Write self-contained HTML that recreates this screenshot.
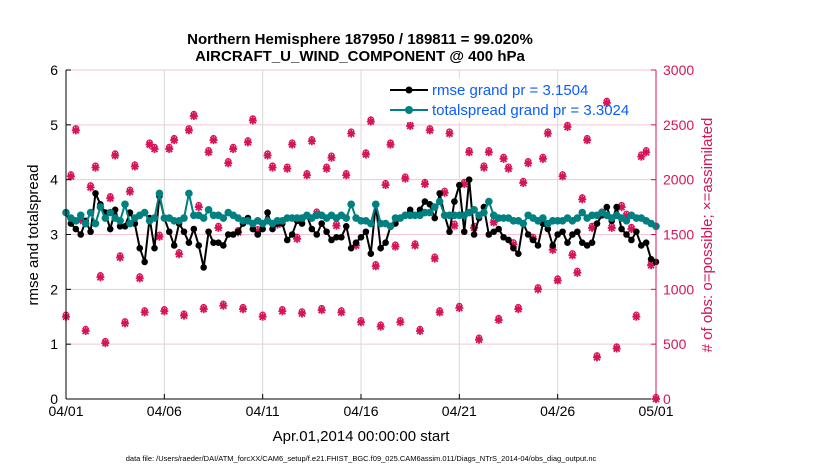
<!DOCTYPE html>
<html><head><meta charset="utf-8">
<style>
body{margin:0;background:#fff;}
svg{font-family:"Liberation Sans",sans-serif;display:block}
</style></head>
<body>
<svg id="chart" width="830" height="470" viewBox="0 0 830 470" xmlns="http://www.w3.org/2000/svg">
<g id="grid"></g>
<g id="marks"></g>
<g id="axes"></g>
<text x="360" y="44" text-anchor="middle" font-size="15" font-weight="bold">Northern Hemisphere 187950 / 189811 = 99.020%</text>
<text x="360" y="61" text-anchor="middle" font-size="15" font-weight="bold">AIRCRAFT_U_WIND_COMPONENT @ 400 hPa</text>
<text transform="translate(38,235) rotate(-90)" text-anchor="middle" font-size="15">rmse and totalspread</text>
<text transform="translate(712,235) rotate(-90)" text-anchor="middle" font-size="15" fill="#d6145a"># of obs: o=possible; ×=assimilated</text>
<text x="361" y="441" text-anchor="middle" font-size="15">Apr.01,2014 00:00:00 start</text>
<text x="361" y="461" text-anchor="middle" font-size="7.5">data file: /Users/raeder/DAI/ATM_forcXX/CAM6_setup/f.e21.FHIST_BGC.f09_025.CAM6assim.011/Diags_NTrS_2014-04/obs_diag_output.nc</text>
<g>
<rect x="386" y="78" width="150" height="44" fill="#fff"/>
<line x1="390" y1="90" x2="428" y2="90" stroke="#000" stroke-width="2"/>
<circle cx="409" cy="90" r="3.5" fill="#000"/>
<text x="432" y="95" font-size="15" fill="#0b5cff">rmse grand pr = 3.1504</text>
<line x1="390" y1="110" x2="428" y2="110" stroke="#008080" stroke-width="2"/>
<circle cx="409" cy="110" r="4" fill="#008080"/>
<text x="432" y="115" font-size="15" fill="#0b5cff">totalspread grand pr = 3.3024</text>
</g>
</svg>
<script>
const xTickLabels = ["04/01","04/06","04/11","04/16","04/21","04/26","05/01"];
const leftTicks = [0,1,2,3,4,5,6];
const rightTicks = [0,500,1000,1500,2000,2500,3000];
const rmse = [3.4,3.2,3.1,3.0,3.25,3.05,3.75,3.55,3.4,3.1,3.45,3.15,3.15,3.4,3.2,2.75,2.5,3.3,2.75,3.7,3.3,3.05,2.8,3.2,3.05,2.85,3.1,2.8,2.4,3.05,2.85,2.85,2.8,3.0,3.0,3.05,3.2,3.3,3.1,3.0,3.1,3.4,3.1,3.2,3.2,2.9,3.0,3.25,3.2,3.35,3.1,3.0,3.2,3.05,2.9,2.95,2.95,3.15,2.75,2.85,2.95,3.05,2.65,3.55,2.75,2.85,3.15,3.2,3.3,3.35,3.45,3.35,3.45,3.6,3.55,3.3,3.75,3.35,3.05,3.6,3.9,3.05,4.0,3.0,3.3,3.5,3.0,3.05,3.1,2.95,2.9,2.75,2.65,3.2,3.0,2.9,2.8,3.2,3.1,2.8,3.0,3.05,2.85,3.0,3.05,2.85,2.8,2.85,3.2,3.35,3.5,3.25,3.5,3.1,3.0,2.9,3.05,2.8,2.85,2.55,2.5];
const spread = [3.4,3.3,3.25,3.35,3.2,3.4,3.2,3.5,3.3,3.4,3.3,3.25,3.55,3.2,3.3,3.35,3.4,3.25,3.3,3.75,3.3,3.3,3.25,3.25,3.3,3.75,3.35,3.35,3.3,3.45,3.35,3.35,3.3,3.4,3.35,3.3,3.25,3.25,3.2,3.25,3.2,3.25,3.2,3.25,3.25,3.3,3.3,3.3,3.3,3.35,3.3,3.35,3.35,3.3,3.35,3.3,3.35,3.3,3.55,3.3,3.25,3.25,3.2,3.55,3.2,3.2,3.15,3.3,3.3,3.35,3.35,3.35,3.35,3.4,3.4,3.5,3.6,3.35,3.35,3.35,3.35,3.35,3.4,3.45,3.35,3.4,3.6,3.35,3.3,3.3,3.3,3.25,3.25,3.2,3.35,3.3,3.25,3.3,3.2,3.25,3.25,3.25,3.3,3.25,3.3,3.4,3.3,3.35,3.35,3.4,3.35,3.3,3.35,3.3,3.25,3.35,3.3,3.3,3.25,3.2,3.15];
const obsCount = [750,2030,2450,1630,620,1930,2110,1110,510,1830,2220,1290,690,1890,2120,1100,790,2320,2280,1480,800,2280,2360,1320,760,2450,2580,1750,820,2250,2360,1560,850,2150,2280,1520,820,2340,2540,1530,750,2220,2110,1590,800,2100,2320,1460,780,2040,2350,1690,810,2100,2200,1580,790,2040,2420,1400,700,2230,2530,1210,660,1950,2320,1390,700,2010,2490,1400,620,1960,2450,1280,790,1880,2420,1580,830,1960,2250,1560,540,2110,2250,1610,720,2190,2100,1410,820,1970,2150,1460,1000,2190,2420,1360,1080,2030,2480,1310,1150,1820,2360,1560,380,1690,2700,1560,460,1750,1670,1550,750,2210,2250,1220,0];

const X0=66, X1=656, Y0=399, Y1=70;
const days = 30;
function xPos(i){ return X0 + (i*0.25)/days*(X1-X0); }
function yLeft(v){ return Y0 - v/6*(Y0-Y1); }
function yRight(v){ return Y0 - v/3000*(Y0-Y1); }
const NS="http://www.w3.org/2000/svg";
function mk(tag, attrs, parent){ const e=document.createElementNS(NS,tag); for(const k in attrs) e.setAttribute(k,attrs[k]); parent.appendChild(e); return e; }
const grid=document.getElementById('grid'), marks=document.getElementById('marks'), axes=document.getElementById('axes');
mk('rect',{x:X0,y:Y1,width:X1-X0,height:Y0-Y1,fill:'#fff'},grid);
rightTicks.forEach((t)=>{
  const l=mk('line',{x1:X0,x2:X1,y1:yRight(t),y2:yRight(t),stroke:'#f2c6d6','stroke-width':1},grid);
  
  
});
xTickLabels.forEach((t,i)=>{
  const x=X0+i*5/days*(X1-X0);
  const l=mk('line',{x1:x,x2:x,y1:Y1,y2:Y0,stroke:'#d8d8d8','stroke-width':1},grid);
  
  
  mk('line',{x1:x,x2:x,y1:Y0,y2:Y0-5,stroke:'#000'},axes);
  const tx=mk('text',{x:x,y:416,'text-anchor':'middle','font-size':'14'},axes);
  tx.textContent=t;
  
  
});
obsCount.forEach((v,i)=>{
  const x=xPos(i), y=yRight(v);
  const g=mk('g',{fill:'#d6145a',stroke:'#d6145a'},marks);
  
  
  mk('circle',{cx:x,cy:y-2,r:2.6,fill:'#fff','stroke-width':1.3},g);
  mk('path',{d:`M${x-4} ${y}h8M${x} ${y-4}v8M${x-3} ${y-3}l6 6M${x+3} ${y-3}l-6 6`,'stroke-width':1.8},g);
  mk('circle',{cx:x,cy:y,r:2.5,stroke:'none'},g);
});
function series(arr,color,r,name){
  const pts=arr.map((v,i)=>xPos(i).toFixed(1)+','+yLeft(v).toFixed(1)).join(' ');
  const pl=mk('polyline',{points:pts,fill:'none',stroke:color,'stroke-width':2},marks);
  
  
  arr.forEach((v,i)=>{
    const c=mk('circle',{cx:xPos(i),cy:yLeft(v),r:r,fill:color},marks);
    
    
  });
}
series(rmse,'#000',3.3,'rmse');
series(spread,'#008080',3.8,'spread');
mk('line',{x1:X0,x2:X0,y1:Y1,y2:Y0,stroke:'#000'},axes);
mk('line',{x1:X0,x2:X1,y1:Y0,y2:Y0,stroke:'#000'},axes);
mk('line',{x1:X1,x2:X1,y1:Y1,y2:Y0,stroke:'#d6145a'},axes);
leftTicks.forEach(t=>{
  const y=yLeft(t);
  mk('line',{x1:X0,x2:X0+5,y1:y,y2:y,stroke:'#000'},axes);
  const tx=mk('text',{x:X0-8,y:y+5,'text-anchor':'end','font-size':'14'},axes);
  tx.textContent=t;
  
  
});
rightTicks.forEach(t=>{
  const y=yRight(t);
  mk('line',{x1:X1,x2:X1-5,y1:y,y2:y,stroke:'#d6145a'},axes);
  const tx=mk('text',{x:X1+7,y:y+5,'text-anchor':'start','font-size':'14',fill:'#d6145a'},axes);
  tx.textContent=t;
  
  
});
</script>
</body></html>
